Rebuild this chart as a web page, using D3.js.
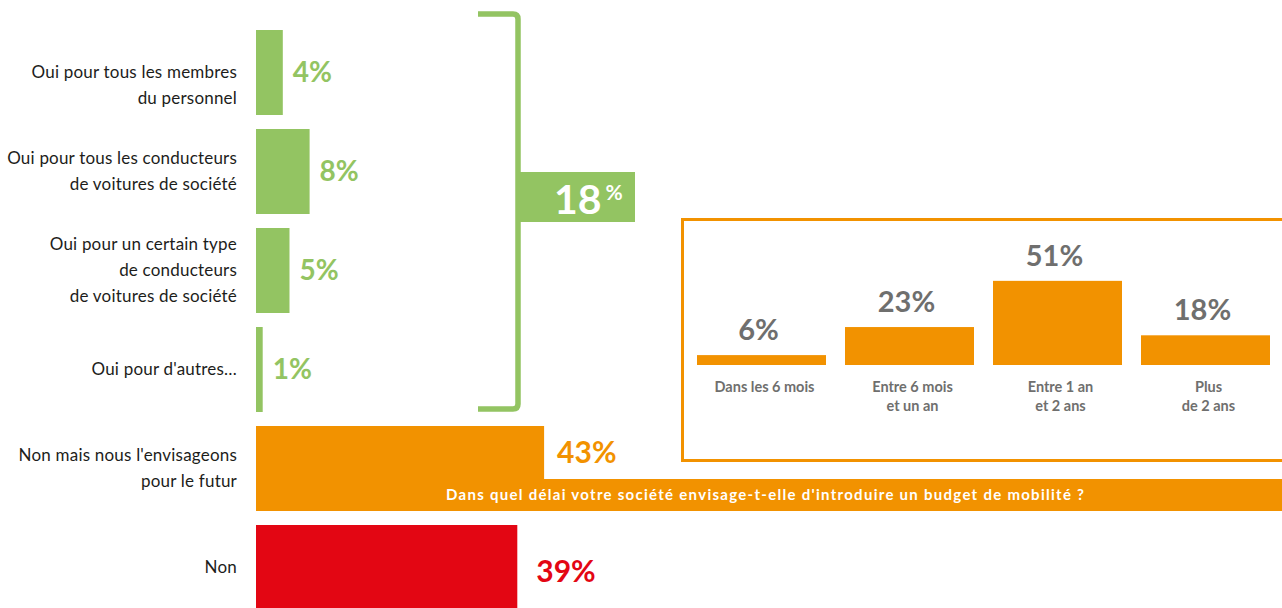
<!DOCTYPE html>
<html lang="fr">
<head>
<meta charset="utf-8">
<script src="https://cdn.jsdelivr.net/npm/d3@7"></script>
<style>
  html, body { margin: 0; padding: 0; background: #fff; overflow: hidden; }
  svg { display: block; font-family: Lato, "Noto Sans", sans-serif; }
</style>
</head>
<body>
<svg id="chart" width="1282" height="608"></svg>
<script>
// Réponses : votre société a-t-elle introduit un budget de mobilité ?
const answers = [
  "Oui pour tous les membres\ndu personnel",
  "Oui pour tous les conducteurs\nde voitures de société",
  "Oui pour un certain type\nde conducteurs\nde voitures de société",
  "Oui pour d'autres…",
  "Non mais nous l'envisageons\npour le futur",
  "Non"
];
const answerValues = [4, 8, 5, 1, 43, 39];
const answerGroups = ["oui", "oui", "oui", "oui", "envisage", "non"];
const ouiTotal = 18;

// Délai envisagé pour l'introduction
const delayQuestion = "Dans quel délai votre société envisage-t-elle d'introduire un budget de mobilité ?";
const delayCategories = ["Dans les 6 mois", "Entre 6 mois\net un an", "Entre 1 an\net 2 ans", "Plus\nde 2 ans"];
const delayValues = [6, 23, 51, 18];

const GREEN = "#93c462", ORANGE = "#f29200", RED = "#e30613", GREY = "#6f6f6e", INK = "#1d1d1b";
const groupColor = d3.scaleOrdinal().domain(["oui", "envisage", "non"]).range([GREEN, ORANGE, RED]);

const svg = d3.select("#chart");

// ---- Main horizontal bars ----
const x = d3.scaleLinear().domain([0, 100]).range([256, 926]);
const y = d3.scaleBand().domain(d3.range(answers.length)).range([30, 610])
  .paddingInner(14 / 99).paddingOuter(0);
const bw = y.bandwidth();
const bannerH = 32;

const rows = answers.map((label, i) => ({ label, value: answerValues[i], group: answerGroups[i], i }));

// Banner under the "envisage" bar
const envIdx = answerGroups.indexOf("envisage");
const bannerTop = y(envIdx) + bw - bannerH;
svg.append("rect")
  .attr("x", x(0)).attr("y", bannerTop)
  .attr("width", 1282 - x(0)).attr("height", bannerH)
  .attr("fill", ORANGE);

svg.append("g").selectAll("rect").data(rows).join("rect")
  .attr("x", x(0))
  .attr("y", d => y(d.i))
  .attr("width", d => x(d.value) - x(0))
  .attr("height", bw)
  .attr("fill", d => groupColor(d.group));

svg.append("text")
  .attr("x", 446).attr("y", bannerTop + bannerH / 2)
  .attr("dy", "0.35em")
  .attr("fill", "#fff")
  .attr("font-size", 15).attr("font-weight", 700)
  .attr("textLength", 638).attr("lengthAdjust", "spacing")
  .text(delayQuestion);

// Category labels, right aligned
const lineH = 26;
const labels = svg.append("g").attr("fill", INK).attr("font-size", 17)
  .attr("letter-spacing", 0.2).attr("text-anchor", "end");
rows.forEach(d => {
  const lines = d.label.split("\n");
  const cy = y(d.i) + bw / 2 + (d.i === 0 ? 13 : 0);
  const t = labels.append("text");
  lines.forEach((ln, k) => {
    t.append("tspan")
      .attr("x", 237)
      .attr("y", cy + (k - (lines.length - 1) / 2) * lineH)
      .attr("dy", "0.35em")
      .text(ln);
  });
});

// Value labels
svg.append("g").selectAll("text").data(rows).join("text")
  .attr("x", d => x(d.value) + (d.group === "oui" ? 10 : d.group === "envisage" ? 13 : 19))
  .attr("y", d => d.group === "envisage" ? y(d.i) + (bw - bannerH) / 2 : y(d.i) + bw / 2 + (d.group === "non" ? 4 : 0))
  .attr("dy", "0.35em")
  .attr("fill", d => groupColor(d.group))
  .attr("font-size", d => d.group === "oui" ? 28 : 30)
  .attr("font-weight", 700)
  .text(d => d.value + "%");

// ---- Bracket grouping the "oui" answers ----
const ouiIdx = d3.range(answers.length).filter(i => answerGroups[i] === "oui");
const bTop = y(ouiIdx[0]) - 16;
const bBot = y(ouiIdx[ouiIdx.length - 1]) + bw - 3;
const bx = 518, bLeft = 478, r = 5;
svg.append("path")
  .attr("d", `M${bLeft},${bTop} L${bx - r},${bTop} Q${bx},${bTop} ${bx},${bTop + r} L${bx},${bBot - r} Q${bx},${bBot} ${bx - r},${bBot} L${bLeft},${bBot}`)
  .attr("fill", "none")
  .attr("stroke", GREEN)
  .attr("stroke-width", 5.5);

svg.append("rect")
  .attr("x", bx).attr("y", 172).attr("width", 117).attr("height", 50)
  .attr("fill", GREEN);
const tot = svg.append("text")
  .attr("x", 554).attr("y", 214)
  .attr("fill", "#fff").attr("font-weight", 700);
tot.append("tspan").attr("font-size", 41).text(ouiTotal);
tot.append("tspan").attr("font-size", 21).attr("dx", 4).attr("dy", -14).text("%");

// ---- Inset: délai envisagé ----
svg.append("rect")
  .attr("x", 682.5).attr("y", 219.5)
  .attr("width", 700).attr("height", 241)
  .attr("fill", "none").attr("stroke", ORANGE).attr("stroke-width", 3);

const ix = d3.scaleBand().domain(d3.range(delayCategories.length))
  .range([697, 1270]).paddingInner(19 / 148).paddingOuter(0);
const iy = d3.scaleLinear().domain([0, 100]).range([365, 200]);

const inset = delayCategories.map((label, i) => ({ label, value: delayValues[i], i }));

svg.append("g").selectAll("rect").data(inset).join("rect")
  .attr("x", d => ix(d.i))
  .attr("y", d => iy(d.value))
  .attr("width", ix.bandwidth())
  .attr("height", d => iy(0) - iy(d.value))
  .attr("fill", ORANGE);

svg.append("g").selectAll("text").data(inset).join("text")
  .attr("x", d => ix(d.i) + ix.bandwidth() / 2 - 3)
  .attr("y", d => iy(d.value) - 15)
  .attr("text-anchor", "middle")
  .attr("fill", GREY)
  .attr("font-size", 29).attr("font-weight", 700)
  .text(d => d.value + "%");

const icat = svg.append("g").attr("fill", GREY).attr("font-size", 14.5)
  .attr("font-weight", 700).attr("text-anchor", "middle");
inset.forEach(d => {
  const t = icat.append("text");
  d.label.split("\n").forEach((ln, k) => {
    t.append("tspan")
      .attr("x", ix(d.i) + ix.bandwidth() / 2 + 3)
      .attr("y", 392 + k * 19)
      .text(ln);
  });
});
</script>
</body>
</html>
